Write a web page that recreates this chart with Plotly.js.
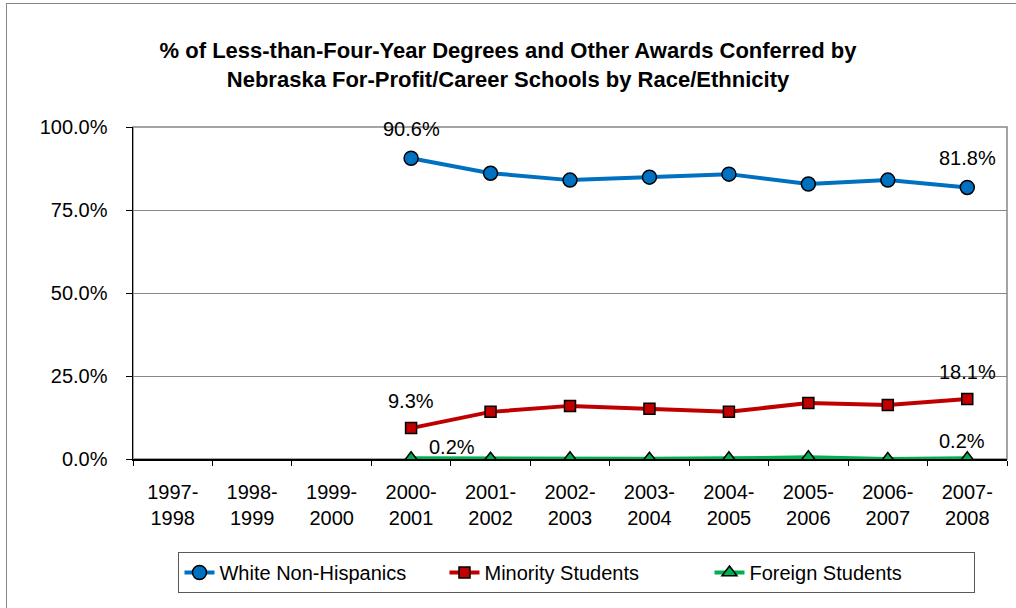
<!DOCTYPE html>
<html>
<head>
<meta charset="utf-8">
<script src="https://cdn.plot.ly/plotly-3.0.1.min.js"></script>
<style>
  html, body { margin: 0; padding: 0; background: #ffffff; }
  #frame { position: absolute; left: 6px; top: 3px; width: 1030px; height: 640px;
           border-left: 1px solid #868686; border-top: 1px solid #868686; }
  #chart { position: absolute; left: 0; top: 0; width: 1016px; height: 608px; }
</style>
</head>
<body>
<div id="frame"></div>
<div id="chart"></div>
<script>
// Academic years shown on the category axis
const years = ["1997-1998", "1998-1999", "1999-2000", "2000-2001", "2001-2002", "2002-2003",
               "2003-2004", "2004-2005", "2005-2006", "2006-2007", "2007-2008"];

// Share of awards (%) by group; no reporting before 2000-2001
const whiteNonHispanic = [null, null, null, 90.6, 86.1, 84.0, 84.9, 85.8, 82.8, 84.0, 81.8];
const minorityStudents = [null, null, null, 9.3, 14.2, 16.0, 15.1, 14.2, 16.9, 16.3, 18.1];
const foreignStudents  = [null, null, null, 0.2, 0.1, 0.2, 0.1, 0.2, 0.5, 0.0, 0.2];

const yTicks = [0, 25, 50, 75, 100];

const FONT = "Liberation Sans, Arial, sans-serif";
const tickText = years.map(y => y.replace("-", "-<br>"));

function series(name, values, color, symbol, size) {
  return {
    type: "scatter", mode: "lines+markers", name: name,
    x: years, y: values, connectgaps: false,
    line: { color: color, width: 4 },
    marker: { symbol: symbol, size: size, color: color, line: { color: "#000000", width: 1.5 } }
  };
}

const traces = [
  series("White Non-Hispanics", whiteNonHispanic, "#0070C0", "circle", 14),
  series("Minority Students", minorityStudents, "#C00000", "square", 11),
  series("Foreign Students", foreignStudents, "#00B050", "triangle-up", 13)
];

// Value labels on the first and last reported year of each series
function firstIdx(v) { return v.findIndex(d => d !== null); }
function label(values, i, xs, ys) {
  return {
    x: years[i], y: values[i], text: values[i].toFixed(1) + "%",
    showarrow: false, xshift: xs, yshift: ys,
    font: { family: FONT, size: 20, color: "#000000" }
  };
}
const annotations = [
  label(whiteNonHispanic, firstIdx(whiteNonHispanic), 0, 29),
  label(whiteNonHispanic, years.length - 1, 0, 29),
  label(minorityStudents, firstIdx(minorityStudents), 0, 27),
  label(minorityStudents, years.length - 1, 0, 27),
  label(foreignStudents, firstIdx(foreignStudents), 41, 11),
  label(foreignStudents, years.length - 1, -5, 17)
];

const layout = {
  width: 1016, height: 608,
  margin: { l: 133, r: 9, t: 127, b: 149 },
  paper_bgcolor: "rgba(0,0,0,0)", plot_bgcolor: "#ffffff",
  font: { family: FONT, size: 20, color: "#000000" },
  title: {
    text: "<b>% of Less-than-Four-Year Degrees and Other Awards Conferred by<br>Nebraska For-Profit/Career Schools by Race/Ethnicity</b>",
    font: { family: FONT, size: 22, color: "#000000" },
    x: 0.5, xanchor: "center", y: 0.904, yanchor: "middle"
  },
  xaxis: {
    type: "category", categoryorder: "array", categoryarray: years,
    tickmode: "array", tickvals: years, ticktext: tickText,
    range: [-0.5, years.length - 0.5],
    showline: true, linecolor: "#000000", linewidth: 1.5,
    ticks: "outside", tickson: "boundaries", ticklen: 5, tickcolor: "#000000", tickwidth: 1,
    showgrid: false, zeroline: false, ticklabelstandoff: 14,
    tickfont: { family: FONT, size: 20, color: "#000000" }
  },
  yaxis: {
    range: [0, 100], tickmode: "array", tickvals: yTicks,
    ticktext: yTicks.map(v => v.toFixed(1) + "%"),
    showline: true, linecolor: "#000000", linewidth: 1.5,
    ticks: "outside", ticklen: 6, tickcolor: "#000000",
    showgrid: true, gridcolor: "#868686", gridwidth: 1,
    zeroline: false, ticklabelstandoff: 14,
    tickfont: { family: FONT, size: 20, color: "#000000" }
  },
  shapes: [{
    type: "rect", xref: "paper", yref: "paper", x0: 0, y0: 0, x1: 1, y1: 1,
    line: { color: "#868686", width: 1.5 }, layer: "below"
  }],
  annotations: annotations,
  showlegend: true,
  legend: {
    orientation: "h", x: 0.508, xanchor: "center", y: -0.28, yanchor: "top",
    bordercolor: "#595959", borderwidth: 1, bgcolor: "#ffffff",
    entrywidth: 220, entrywidthmode: "pixels",
    font: { family: FONT, size: 20, color: "#000000" },
    traceorder: "normal"
  }
};

Plotly.newPlot("chart", traces, layout, { displayModeBar: false, staticPlot: true });
</script>
</body>
</html>
